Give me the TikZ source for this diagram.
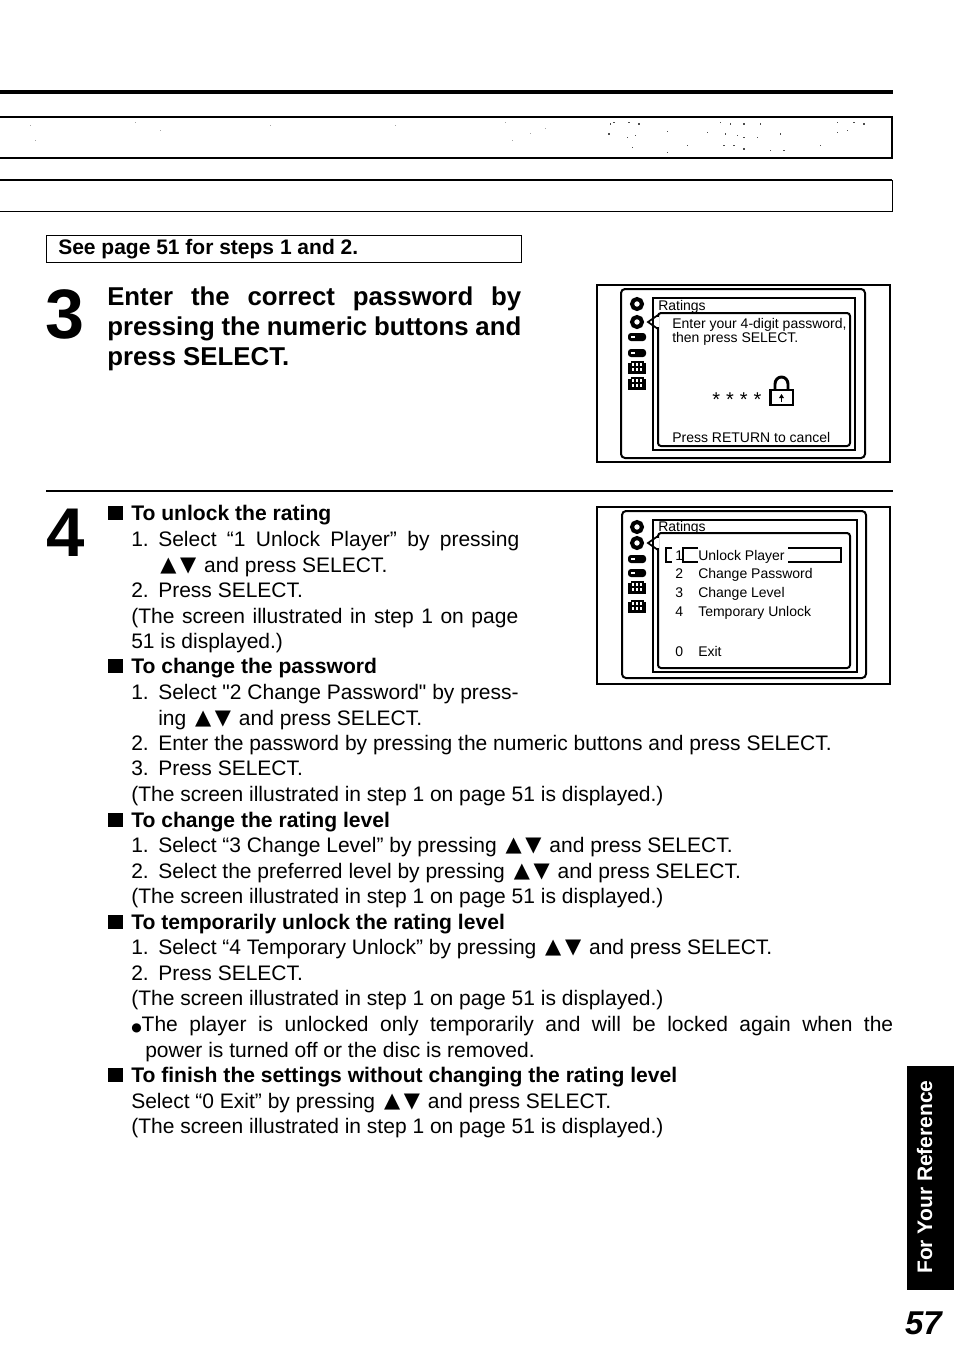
\documentclass[tikz,border=0pt]{standalone}
\usepackage{fontspec}
\setmainfont{Liberation Sans}
\newfontfamily\symb{DejaVu Sans}
\newfontfamily\pq{Liberation Sans}
\newlength{\pxu}\setlength{\pxu}{0.75pt}
\newcommand{\fs}[1]{\fontsize{#1\pxu}{#1\pxu}\selectfont}
\newcommand{\ud}{\kern3\pxu\raisebox{1\pxu}{\hbox to 36\pxu{\symb\fontsize{21\pxu}{21\pxu}\selectfont ▲\hfil ▼}}\kern2\pxu}
\newcommand{\blt}{\hbox to 23\pxu{\rule[0.5\pxu]{14.5\pxu}{13.5\pxu}\hfil}}
\newcommand{\nm}[1]{\hbox to 27\pxu{#1.\hfil}}
\newcommand{\just}[2]{\makebox[#1\pxu][s]{#2}}
\newcommand{\gridicon}[2]{%
  \fill (#1-9,#2-6.5) rectangle (#1+9,#2+7);
  \foreach \q in {-4,0,4} {\fill[white] (#1+\q-.6,#2-4.5) rectangle (#1+\q+.6,#2-1.2);\fill[white] (#1+\q-.6,#2+1.2) rectangle (#1+\q+.6,#2+4);}
  \fill[white] (#1-9,#2-6.5) rectangle (#1-6.5,#2-4.5);\fill[white] (#1+6.5,#2-6.5) rectangle (#1+9,#2-4.5);}
\newcommand{\pillicon}[2]{%
  \fill[rounded corners=3\pxu] (#1-9,#2-4) rectangle (#1+9,#2+4);
  \fill[white] (#1-6,#2-1) rectangle (#1-2,#2+1);}
\tikzset{
  x=0.75pt,y=-0.75pt,
  body/.style={anchor=base west,inner sep=0pt,font=\fs{21}},
  head/.style={anchor=base west,inner sep=0pt,font=\fs{21.1}\bfseries},
  big/.style={anchor=base west,inner sep=0pt,font=\fs{25.8}\bfseries},
  scr/.style={anchor=base west,inner sep=0pt,font=\fs{14}},
  rule/.style={line width=1.5pt},
  thin rule/.style={line width=1pt},
  ring/.style={draw,line width=3pt,fill=white}
}
\begin{document}
\begin{tikzpicture}
\useasboundingbox (0,0) rectangle (954,1368);
\fill[white] (0,0) rectangle (954,1368);
% top rules
\coordinate (ta) at (0,92); \coordinate (tb) at (893,92);
\draw[line width=3pt] (ta) -- (tb);
\draw[rule] (0,117) -- (892,117) -- (892,157.5) -- (0,157.5);
\draw[line width=1.2pt] (0,180) -- (892,180);
\draw[line width=.7pt] (892,180) -- (892,211) -- (0,211);
% scanner specks in the band
\foreach \a/\b in {150/70,160/65,205/65,235/70,145/100,225/105,200/110,215/140,320/92,380/135,440/95,495/100,530/105,550/110,480/65,510/70,550/70,600/70,590/110,490/135,520/135,660/100,670/150,630/150,780/135,830/95,860/90,830/65,880/65,910/70,320/155,550/145}
  \fill[black!70] (560+\a/3,100+\b/3) rectangle +(1.3,1.3);
\foreach \a/\b in {30/125,35/140,135/122,160/130,270/125,395/125,505/122,512/140,530/133,545/128}
  \fill[black!35] (\a,\b) rectangle +(1.2,1.2);
% see page box
\node[draw,line width=1pt,anchor=north west,minimum width=475\pxu,minimum height=27\pxu,inner sep=0pt] (see) at (46,235) {};
\node[anchor=base west,inner sep=0pt,font=\fs{21}\bfseries] (seet) at (58,254) {See page 51 for steps 1 and 2.};
% step 3
\node[anchor=base west,inner sep=0pt,font=\fs{70}\bfseries] (n3) at (45,338) {3};
\node[big] (h1) at (107,305) {\just{414}{Enter the correct password by}};
\node[big] (h2) at (107,335) {\just{414}{pressing the numeric buttons and}};
\node[big] (h3) at (107,365) {press SELECT.};
% divider
\coordinate (da) at (46,491); \coordinate (db) at (893,491);
\draw[rule] (da) -- (db);
% step 4
\node[anchor=base west,inner sep=0pt,font=\fs{69}\bfseries] (n4) at (46,556) {4};
% body
\node[head] (a0) at (108,520) {\blt To unlock the rating};
\node[body] (a1) at (131,546) {\just{388}{\nm{1}Select “1 Unlock Player” by pressing}};
\node[body] (a2) at (157,572) {\ud\ and press SELECT.};
\node[body] (a3) at (131,597) {\nm{2}Press SELECT.};
\node[body] (a4) at (131,623) {\just{387}{(The screen illustrated in step 1 on page}};
\node[body] (a5) at (131,648) {51 is displayed.)};
\node[head] (b0) at (108,673) {\blt To change the password};
\node[body] (b1) at (131,699) {\nm{1}Select {\pq"}2 Change Password{\pq"} by press-};
\node[body] (b2) at (158,725) {ing\ \ud\ and press SELECT.};
\node[body] (b3) at (131,750) {\nm{2}Enter the password by pressing the numeric buttons and press SELECT.};
\node[body] (b4) at (131,775) {\nm{3}Press SELECT.};
\node[body] (b5) at (131,801) {(The screen illustrated in step 1 on page 51 is displayed.)};
\node[head] (c0) at (108,827) {\blt To change the rating level};
\node[body] (c1) at (131,852) {\nm{1}Select “3 Change Level” by pressing \ud\ and press SELECT.};
\node[body] (c2) at (131,878) {\nm{2}Select the preferred level by pressing \ud\ and press SELECT.};
\node[body] (c3) at (131,903) {(The screen illustrated in step 1 on page 51 is displayed.)};
\node[head] (d0) at (108,929) {\blt To temporarily unlock the rating level};
\node[body] (d1) at (131,954) {\nm{1}Select “4 Temporary Unlock” by pressing \ud\ and press SELECT.};
\node[body] (d2) at (131,980) {\nm{2}Press SELECT.};
\node[body] (d3) at (131,1005) {(The screen illustrated in step 1 on page 51 is displayed.)};
\node[body] (d4) at (131,1031) {\just{762}{{\symb\fontsize{12\pxu}{12\pxu}\selectfont ●}The player is unlocked only temporarily and will be locked again when the}};
\node[body] (d5) at (145,1057) {power is turned off or the disc is removed.};
\node[head] (e0) at (108,1082) {\blt To finish the settings without changing the rating level};
\node[body] (e1) at (131,1108) {Select “0 Exit” by pressing \ud\ and press SELECT.};
\node[body] (e2) at (131,1133) {(The screen illustrated in step 1 on page 51 is displayed.)};
% screen 1
\draw[thin rule] (597,285) rectangle (890,462);
\draw[rule,rounded corners=4\pxu] (621,289) rectangle (865,458);
\draw[rule,fill=white] (653,298) rectangle (855,450);
\draw[rule,rounded corners=3\pxu,fill=white] (658,313) rectangle (850,446);
\draw[white,line width=2pt] (658,317) -- (658,327);
\draw[line width=1.3pt] (658,315) -- (648,322) -- (658,329);
\draw[ring] (637,304) circle (5);
\draw[ring] (637,322) circle (5);
\pillicon{637}{337}
\pillicon{637}{353}
\gridicon{637}{367}
\gridicon{637}{383}
\node[scr] (s1t) at (658,310) {Ratings};
\node[scr] (s1a) at (672,328) {Enter your 4-digit password,};
\node[scr] (s1b) at (672,342) {then press SELECT.};
\node[anchor=base west,inner sep=0pt,font=\fs{20}] (s1s) at (712,406) {*\hspace{6\pxu}*\hspace{6\pxu}*\hspace{6\pxu}*};
\node[scr] (s1c) at (672,442) {Press RETURN to cancel};
\draw[line width=2.2pt] (775,390) -- (775,384) arc (180:360:6.5 and 7) -- (788,390);
\draw[line width=1.8pt,fill=white] (770.5,390) rectangle (793,405);
\fill (781.5,394) -- (779,398) -- (784,398) -- cycle;
\fill (780.8,398) rectangle (782.2,402);
% screen 2
\draw[thin rule] (597,507) rectangle (890,684);
\draw[rule,rounded corners=4\pxu] (622,511) rectangle (866,678);
\draw[rule,fill=white] (653,520) rectangle (857,672);
\draw[rule,rounded corners=3\pxu,fill=white] (658,533) rectangle (850,668);
\draw[white,line width=2pt] (658,538) -- (658,548);
\draw[line width=1.3pt] (658,536) -- (648,543) -- (658,550);
\draw[ring] (637,527) circle (5);
\draw[ring] (637,543) circle (5);
\pillicon{637}{559}
\pillicon{637}{573}
\gridicon{637}{587}
\gridicon{637}{606}
\node[scr] (s2t) at (658,531) {Ratings};
\draw[thin rule] (672,548) -- (666,548) -- (666,562) -- (672,562);
\draw[thin rule] (698,548) -- (683,548) -- (683,562) -- (698,562);
\draw[thin rule] (788,562) -- (841,562) -- (841,548) -- (788,548);
\node[scr] (s21n) at (675,560) {1};
\node[scr] (s21) at (698,560) {Unlock Player};
\node[scr] (s22n) at (675,578) {2};
\node[scr] (s22) at (698,578) {Change Password};
\node[scr] (s23n) at (675,597) {3};
\node[scr] (s23) at (698,597) {Change Level};
\node[scr] (s24n) at (675,616) {4};
\node[scr] (s24) at (698,616) {Temporary Unlock};
\node[scr] (s20n) at (675,656) {0};
\node[scr] (s20) at (698,656) {Exit};
% tab and page number
\fill[black] (907,1066) rectangle (954,1290);
\node[anchor=base west,inner sep=0pt,rotate=90,text=white,font=\fs{21}\bfseries] (tab) at (932,1274) {For Your Reference};
\node[anchor=base east,inner sep=0pt,font=\fs{33}\bfseries\itshape] (pg) at (942,1334) {57};
\end{tikzpicture}
\end{document}
